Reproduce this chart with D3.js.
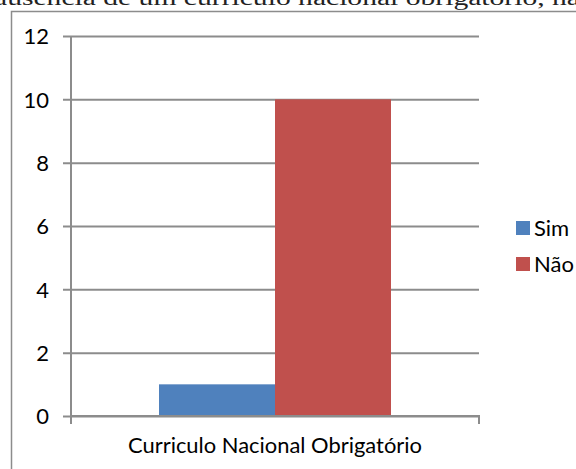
<!DOCTYPE html>
<html>
<head>
<meta charset="utf-8">
<script src="https://cdn.jsdelivr.net/npm/d3@7"></script>
<style>
  body { margin: 0; background: #fff; }
  svg { display: block; }
</style>
</head>
<body>
<div id="chart"></div>
<script>
// Chart data.
const categories = ["Curriculo Nacional Obrigatório"];
const seriesNames = ["Sim", "Não"];
const seriesColors = ["#4f81bd", "#c0504d"];
const seriesValues = [[1], [10]];
const yTicks = [0, 2, 4, 6, 8, 10, 12];

const width = 576, height = 469;
const margin = {top: 36, right: 97, bottom: 53, left: 71};
const plotW = width - margin.left - margin.right,
      plotH = height - margin.top - margin.bottom;

const svg = d3.select("#chart")
  .append("svg")
  .attr("width", width)
  .attr("height", height);

// Cropped line of document text above the chart.
svg.append("text")
  .attr("x", -6)
  .attr("y", 5)
  .attr("textLength", 586)
  .attr("lengthAdjust", "spacingAndGlyphs")
  .style("font-family", "'Liberation Serif', 'DejaVu Serif', serif")
  .style("font-size", "20px")
  .style("fill", "#222")
  .text("ausência de um currículo nacional obrigatório, na");

// Chart area frame (only top and left visible).
svg.append("path")
  .attr("d", "M11.5," + height + "V11.5H" + width)
  .attr("fill", "none")
  .attr("stroke", "#8c8c8c")
  .attr("stroke-width", 1.5);

const g = svg.append("g")
  .attr("transform", "translate(" + margin.left + "," + margin.top + ")");

const x = d3.scaleBand()
  .domain(categories)
  .range([0, plotW]);

const y = d3.scaleLinear()
  .domain([0, 12])
  .range([plotH, 0]);

// Gridlines + left ticks.
const yAxis = g.append("g")
  .call(d3.axisLeft(y).tickValues(yTicks).tickSize(-plotW).tickPadding(22).tickSizeOuter(0));
yAxis.select(".domain").remove();
yAxis.selectAll(".tick line").attr("stroke", "#8c8c8c").attr("stroke-width", 2).attr("x1", -8);
yAxis.selectAll(".tick text")
  .style("font-family", "Lato, 'Open Sans', sans-serif")
  .style("font-size", "22px")
  .style("fill", "#000")
  .attr("dy", "0.36em");

// Bars.
const barW = 116;
const groupW = barW * seriesNames.length;
seriesNames.forEach((name, i) => {
  g.append("g")
    .selectAll("rect")
    .data(categories.map((c, j) => ({cat: c, v: seriesValues[i][j]})))
    .enter()
    .append("rect")
    .attr("x", d => x(d.cat) + (x.bandwidth() - groupW) / 2 + i * barW)
    .attr("y", d => y(d.v))
    .attr("width", barW)
    .attr("height", d => plotH - y(d.v))
    .style("fill", seriesColors[i]);
});

// Axis lines.
g.append("path")
  .attr("d", "M0,0V" + (plotH + 8))
  .attr("fill", "none").attr("stroke", "#8c8c8c").attr("stroke-width", 2);
g.append("path")
  .attr("d", "M0," + plotH + "H" + plotW + "V" + (plotH + 8))
  .attr("fill", "none").attr("stroke", "#8c8c8c").attr("stroke-width", 2);

// Category label.
g.selectAll(".cat")
  .data(categories)
  .enter()
  .append("text")
  .attr("x", d => x(d) + x.bandwidth() / 2)
  .attr("y", plotH + 37)
  .attr("text-anchor", "middle")
  .attr("textLength", 294)
  .attr("lengthAdjust", "spacingAndGlyphs")
  .style("font-family", "Lato, 'Open Sans', sans-serif")
  .style("font-size", "22px")
  .style("fill", "#000")
  .text(d => d);

// Legend.
const legend = svg.append("g").attr("transform", "translate(516,221)");
seriesNames.forEach((name, i) => {
  const row = legend.append("g").attr("transform", "translate(0," + i * 36 + ")");
  row.append("rect")
    .attr("width", 14).attr("height", 14)
    .style("fill", seriesColors[i]);
  row.append("text")
    .attr("x", 18)
    .attr("y", 7)
    .attr("dy", "0.36em")
    .style("font-family", "Lato, 'Open Sans', sans-serif")
    .style("font-size", "22px")
    .style("fill", "#000")
    .text(name);
});
</script>
</body>
</html>
